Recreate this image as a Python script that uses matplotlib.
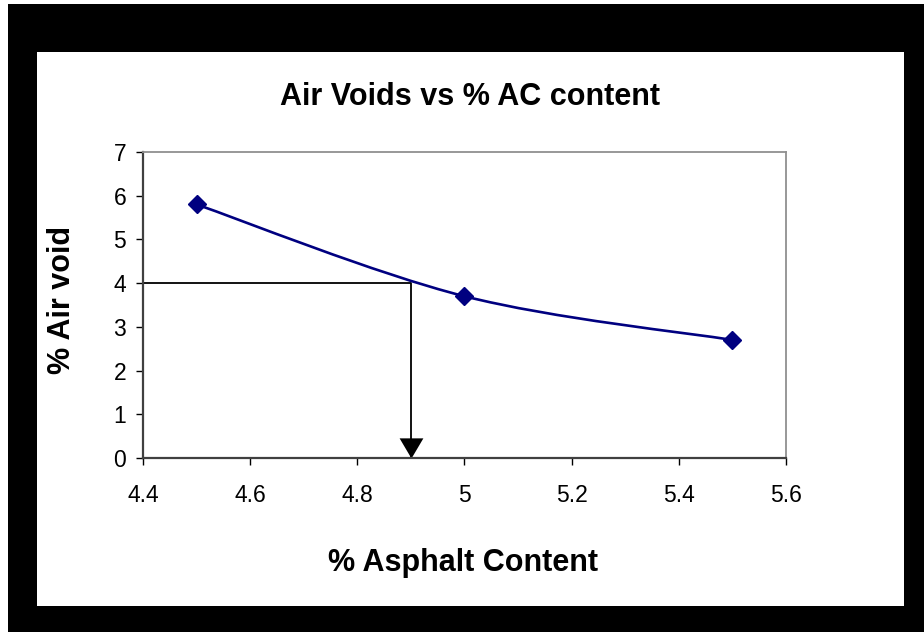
import numpy as np
import matplotlib.pyplot as plt
from matplotlib.path import Path
from matplotlib.patches import PathPatch, Rectangle

plt.rcParams['font.family'] = ['Liberation Sans', 'DejaVu Sans']

# data
ac_content = [4.5, 5.0, 5.5]
air_void = [5.8, 3.7, 2.7]
target_void = 4.0
opt_ac = 4.9
xticks = [4.4, 4.6, 4.8, 5.0, 5.2, 5.4, 5.6]
xticklabels = ['4.4', '4.6', '4.8', '5', '5.2', '5.4', '5.6']
yticks = [0, 1, 2, 3, 4, 5, 6, 7]

fig = plt.figure(figsize=(9.24, 6.32), dpi=100)
# black frame with white inner panel
fig.patches.append(Rectangle((8/924, 0), 916/924, 628/632, transform=fig.transFigure,
                             facecolor='black', edgecolor='none', zorder=-2))
fig.patches.append(Rectangle((37/924, 26/632), 867/924, 554/632, transform=fig.transFigure,
                             facecolor='white', edgecolor='none', zorder=-1))

ax = fig.add_axes([143/924, 174/632, 643/924, 306/632])
ax.set_facecolor('none')
ax.set_zorder(2)

# smoothed line (Excel-style bezier through the points)
pts = np.column_stack([ac_content, air_void])
ext = np.vstack([pts[0], pts, pts[-1]])
verts = [tuple(pts[0])]
codes = [Path.MOVETO]
for i in range(1, len(ext) - 2):
    p0, p1, p2, p3 = ext[i - 1], ext[i], ext[i + 1], ext[i + 2]
    c1 = p1 + (p2 - p0) / 6
    c2 = p2 - (p3 - p1) / 6
    verts += [tuple(c1), tuple(c2), tuple(p2)]
    codes += [Path.CURVE4] * 3
ax.add_patch(PathPatch(Path(verts, codes), facecolor='none', edgecolor='#000080', lw=1.9, zorder=3))
ax.plot(ac_content, air_void, linestyle='none', marker='D', markersize=9,
        color='#000080', zorder=4)

# optimum AC line with arrow (filled triangle head, tip on the x axis)
ax.plot([4.4, opt_ac, opt_ac], [target_void, target_void, 0], color='black', lw=1.3, zorder=2)
head = [(-0.59, 1.0), (0.59, 1.0), (0.0, 0.0)]
ax.plot([opt_ac], [0], linestyle='none', marker=head, markersize=29,
        color='black', markeredgewidth=0, zorder=2)

ax.set_xlim(4.4, 5.6)
ax.set_ylim(0, 7)
ax.set_xticks(xticks)
ax.set_xticklabels(xticklabels)
ax.set_yticks(yticks)
ax.tick_params(direction='out', length=5, width=1, labelsize=16.5, colors='black', pad=14)
ax.tick_params(axis='y', pad=7)
for side in ['left', 'bottom']:
    ax.spines[side].set_color('#404040')
    ax.spines[side].set_linewidth(1.6)
for side in ['top', 'right']:
    ax.spines[side].set_color('#909090')
    ax.spines[side].set_linewidth(1.3)

fig.text(470/924, 1 - 97/632, 'Air Voids vs % AC content', ha='center', va='center',
         fontsize=22, fontweight='bold')
fig.text(463/924, 1 - 563/632, '% Asphalt Content', ha='center', va='center',
         fontsize=22, fontweight='bold')
fig.text(62/924, 1 - 300/632, '% Air void', ha='center', va='center', rotation=90,
         fontsize=22, fontweight='bold')

fig.savefig('out.png', dpi=100)
